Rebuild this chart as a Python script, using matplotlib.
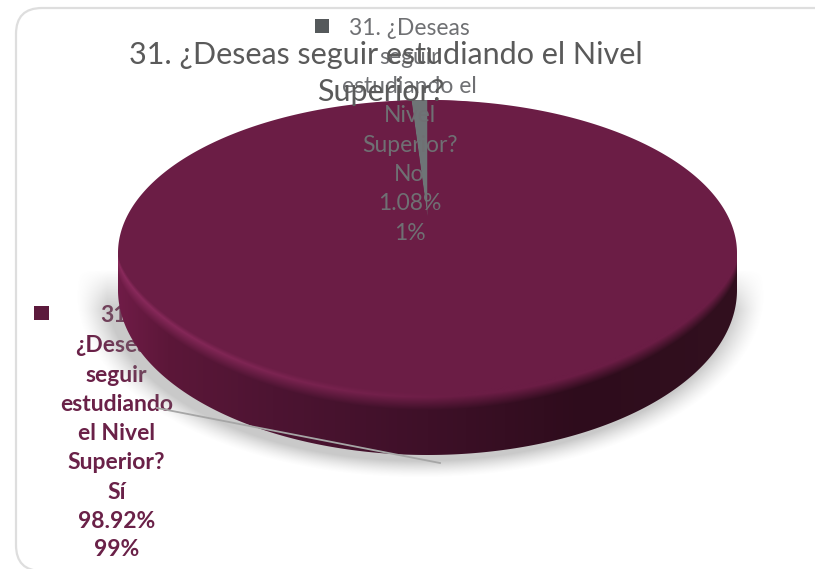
import numpy as np
import matplotlib
matplotlib.use("Agg")
import matplotlib.pyplot as plt
from matplotlib.patches import FancyBboxPatch, Rectangle, PathPatch
from matplotlib.path import Path

categories = ["Sí", "No"]
values = [98.92, 1.08]
rounded = ["99%", "1%"]
question_lines = ["31. ¿Deseas", "seguir", "estudiando el", "Nivel", "Superior?"]
title_lines = ["31. ¿Deseas seguir estudiando el Nivel", "Superior?"]

W, H = 815, 569
WINE, GREY = "#6b1d45", "#6e7476"
plt.rcParams["font.family"] = ["Lato", "DejaVu Sans"]

fig = plt.figure(figsize=(W / 100, H / 100), dpi=100, facecolor="white")


def pixel_axes(z):
    a = fig.add_axes([0, 0, 1, 1], zorder=z)
    a.set_xlim(0, W)
    a.set_ylim(H, 0)
    a.axis("off")
    a.patch.set_alpha(0)
    return a


back = pixel_axes(0)
front = pixel_axes(2)

# chart frame
back.add_patch(FancyBboxPatch((16, 8), 900, 563, boxstyle="round,pad=0,rounding_size=26",
                              fc="white", ec="#dedede", lw=1.6, zorder=0))

cx, rx = 427.5, 309.5
top_cy, top_ry = 253, 153        # upper edge of the top face
low_cy, low_ry = 290, 165        # lower edge of the disc
rim_ry = 139                     # lower edge of the top face

# Sí label (partly hidden behind the disc and its shadow)
sy = [315, 345, 375, 404, 433, 462, 492, 521, 550]
si_lines = ["31.", "¿Deseas", "seguir", "estudiando", "el Nivel", "Superior?",
            categories[0], f"{values[0]:.2f}%", rounded[0]]
for t_, y in zip(si_lines, sy):
    back.text(116.5, y, t_, ha="center", va="center", fontsize=16.5, color="#6a2148",
              fontweight="bold", zorder=1)
back.add_patch(Rectangle((34, 306), 15, 14, fc="#5c1a3c", ec="none", zorder=1))

# soft shadow
yy, xx = np.mgrid[0:H, 0:W]
xc = xx + 0.5
yc = yy + 0.5
d = np.sqrt(((xc - cx + 7) / (rx + 4)) ** 2 + (np.maximum(yc - low_cy - 2, 0) / (low_ry + 4)) ** 2)
d = np.where(yc < 270, 9, d)
alpha = np.clip((1.10 - d) / 0.10, 0, 1) ** 1.4 * 0.42
alpha = alpha * np.clip((yc - 270) / 40, 0, 1)
rgba = np.zeros((H, W, 4))
rgba[..., :3] = 0.5
rgba[..., 3] = alpha
back.imshow(rgba, extent=(0, W, H, 0), aspect="auto", zorder=2, interpolation="bilinear")

# disc silhouette
t = np.linspace(0, np.pi, 300)
up_x = cx + rx * np.cos(t)
up_y = top_cy - top_ry * np.sin(t)
lo_x = cx - rx * np.cos(t)
lo_y = low_cy + low_ry * np.sin(t)
verts = np.r_[np.c_[up_x, up_y], np.c_[lo_x, lo_y]]
disc_path = Path(np.r_[verts, verts[:1]], closed=True)
disc_patch = PathPatch(disc_path, fc="none", ec="none", transform=back.transData, zorder=3)
back.add_patch(disc_patch)

# disc shading: flat face, bevel highlight on the left, dark side to the right
u = np.clip((xc - (cx - rx)) / (2 * rx), 0, 1)
dx = np.clip(np.abs(xc - cx) / rx, 0, 1)
rim = top_cy + rim_ry * np.sqrt(1 - dx ** 2) ** 1.3
below = yc - rim


def hexc(h):
    return np.array([int(h[i:i + 2], 16) for i in (1, 3, 5)]) / 255


stops = [0, .08, .25, .5, .75, 1]
side_cols = np.array([hexc(c) for c in ["#701c47", "#5c1739", "#4d1432", "#3e1028", "#2e0c1c", "#32101f"]])
side = np.stack([np.interp(u, stops, side_cols[:, i]) for i in range(3)], axis=-1)
hi = hexc("#8a2a5c")
face = hexc(WINE)
hi_amount = np.clip(1 - u / 0.55, 0, 1)[..., None]
fade_in = np.clip(below / 5, 0, 1)[..., None]
fade_out = np.clip((below - 5) / 13, 0, 1)[..., None]
bevel = face * (1 - hi_amount) + hi * hi_amount
img = face * (1 - fade_in) + bevel * fade_in
img = img * (1 - fade_out) + side * fade_out
im = back.imshow(img, extent=(0, W, H, 0), aspect="auto", zorder=3, interpolation="bilinear")
im.set_clip_path(disc_patch)
back.set_xlim(0, W)
back.set_ylim(H, 0)

# top face: pie on its own axes, flattened to the ellipse
ax = fig.add_axes([(cx - rx) / W, 1 - (top_cy + top_ry) / H, 2 * rx / W, 2 * top_ry / H], zorder=1)
tip_shift = 0.235
ax.pie(values[::-1], colors=[GREY, WINE], startangle=90, counterclock=True,
       radius=1 - tip_shift, center=(0, tip_shift),
       wedgeprops={"linewidth": 0})
ax.set_aspect("auto")
ax.set_xlim(-1, 1)
ax.set_ylim(-1, 1)
ax.axis("off")
ax.patch.set_alpha(0)

# No label
no_lines = question_lines + [categories[1], f"{values[1]:.2f}%", rounded[1]]
ny = [28, 57, 86, 115, 145, 174, 203, 233]
for t_, y in zip(no_lines, ny):
    front.text(409.5, y, t_, ha="center", va="center", fontsize=16.5, color="#6f7073", zorder=3)
front.add_patch(Rectangle((315, 19), 14, 14, fc="#55595b", ec="none"))

# title
front.text(386, 55, title_lines[0], ha="center", va="center", fontsize=22, color="#5a5a5a", zorder=4)
front.text(381, 92, title_lines[1], ha="center", va="center", fontsize=22, color="#5a5a5a", zorder=4)

# leader line
front.plot([157, 440], [408, 463], color="#a6a6a6", lw=1.3, zorder=2)

fig.savefig("out.png", dpi=100)
